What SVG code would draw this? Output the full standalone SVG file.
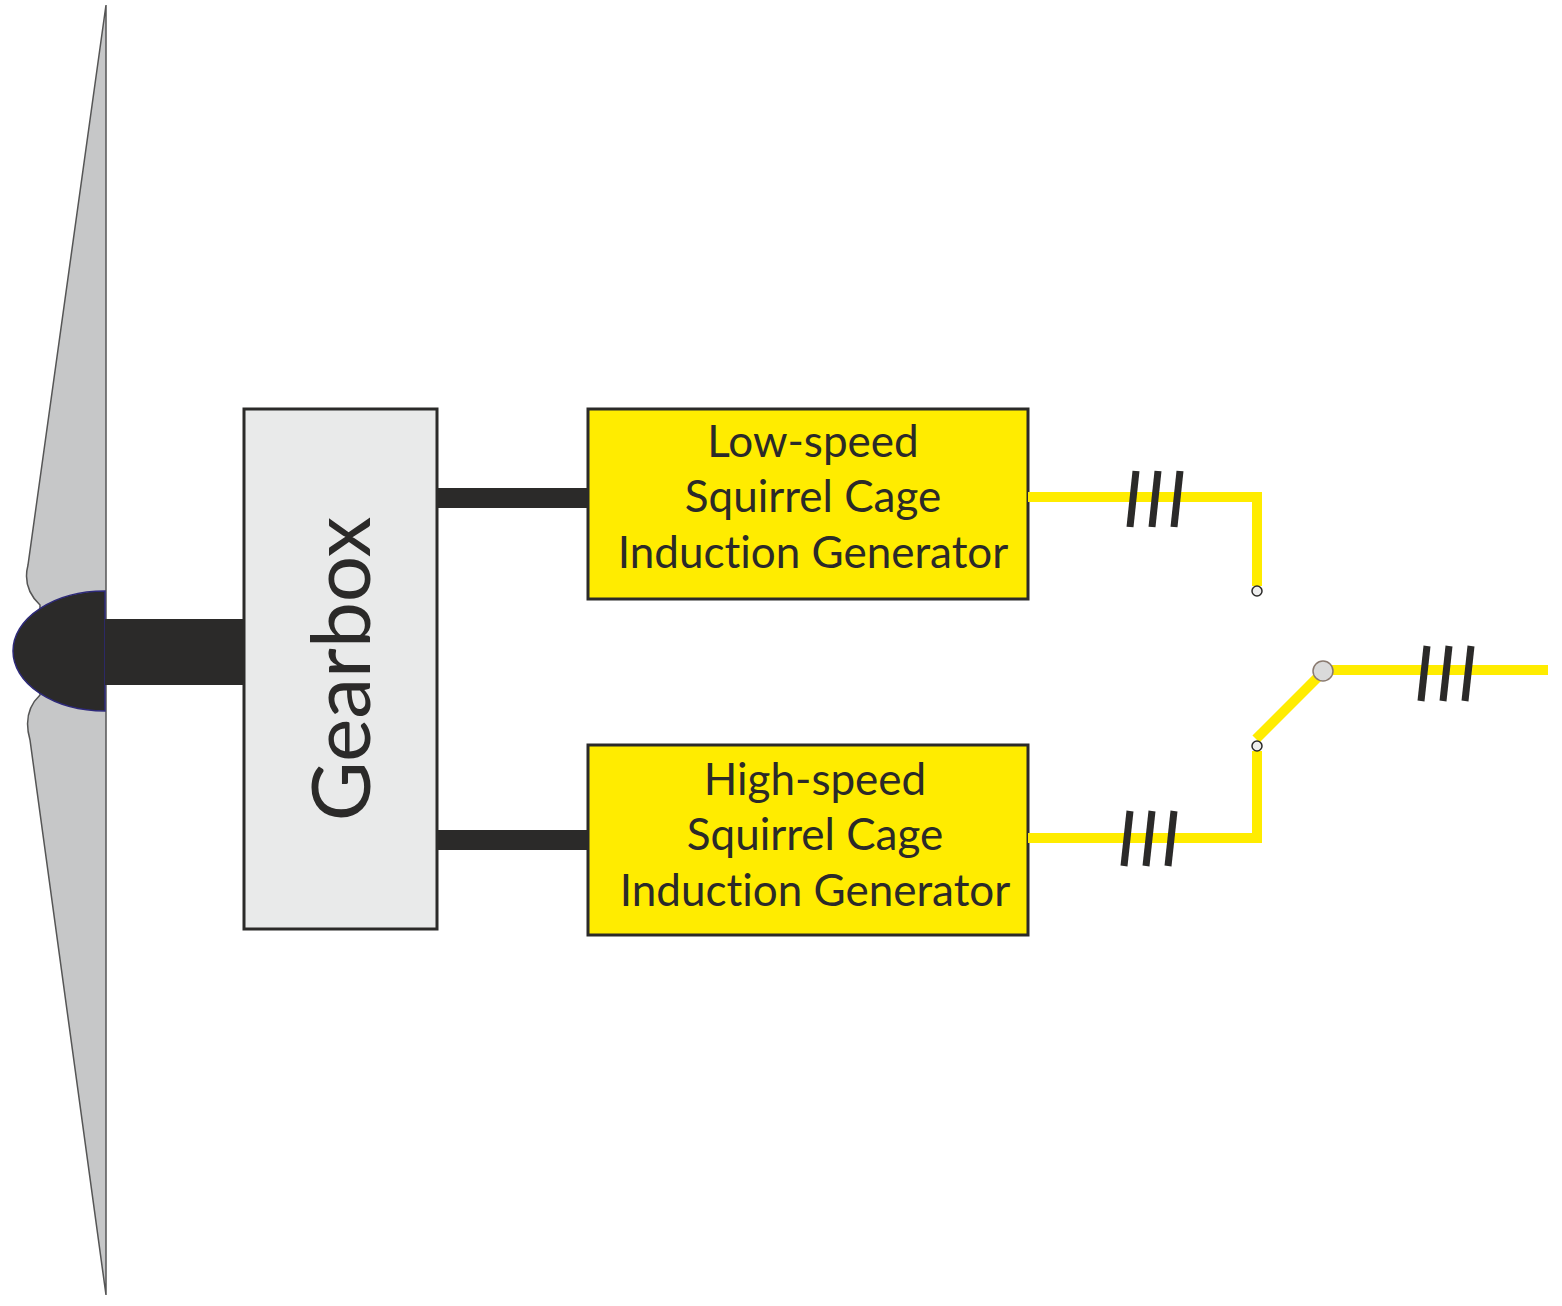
<svg xmlns="http://www.w3.org/2000/svg" width="1562" height="1306" viewBox="0 0 1562 1306">
<style>
.gen{fill:#ffec00;stroke:#2b2a29;stroke-width:3}
.lbl{font-family:Lato,"Open Sans",sans-serif;font-size:44px;fill:#2b2a29;text-anchor:middle;font-variant-ligatures:none;font-feature-settings:"liga" 0}
.w{fill:none;stroke:#ffec00;stroke-width:10}
.t{stroke:#2b2a29;stroke-width:7}
.sh{fill:#2b2a29}
</style>
<rect width="1562" height="1306" fill="#fff"/>
<g id="rotor">
<path d="M106,5 L106,1295 L30,740 Q22,712 40,695 L40,605 Q22,588 28,565 Z" fill="#c6c7c8" stroke="#555" stroke-width="1.5"/>
<path d="M105,591 A92,60 0 0 0 105,711 Z" fill="#2b2a29" stroke="#2e2a7a" stroke-width="1.5"/>
<rect x="105" y="619" width="140" height="66" class="sh"/>
</g>
<g id="gearbox">
<rect x="244" y="409" width="193" height="520" fill="#e9eaea" stroke="#2b2a29" stroke-width="3"/>
<text transform="translate(370,669) rotate(-90)" font-family="Lato,'Open Sans',sans-serif" font-size="82" fill="#2b2a29" text-anchor="middle">Gearbox</text>
</g>
<g id="shafts">
<rect x="437" y="488" width="151" height="20" class="sh"/>
<rect x="437" y="830" width="151" height="20" class="sh"/>
</g>
<g id="gen-low">
<rect x="588" y="409" width="440" height="190" class="gen"/>
<text class="lbl" x="813" y="457">Low-speed</text>
<text class="lbl" x="813" y="512">Squirrel Cage</text>
<text class="lbl" x="813" y="568">Induction Generator</text>
</g>
<g id="gen-high">
<rect x="588" y="745" width="440" height="190" class="gen"/>
<text class="lbl" x="815" y="795">High-speed</text>
<text class="lbl" x="815" y="850">Squirrel Cage</text>
<text class="lbl" x="815" y="906">Induction Generator</text>
</g>
<g id="connectors">
<polyline class="w" points="1028,497 1257,497 1257,586"/>
<polyline class="w" points="1028,838 1257,838 1257,751"/>
<line class="w" x1="1256" y1="739" x2="1321" y2="674"/>
<line class="w" x1="1323" y1="670" x2="1548" y2="670"/>
<g class="t">
<line x1="1136" y1="471" x2="1130" y2="527"/><line x1="1158" y1="471" x2="1152" y2="527"/><line x1="1180" y1="471" x2="1174" y2="527"/>
<line x1="1130" y1="811" x2="1124" y2="866"/><line x1="1152" y1="811" x2="1146" y2="866"/><line x1="1174" y1="811" x2="1168" y2="866"/>
<line x1="1427" y1="646" x2="1421" y2="701"/><line x1="1449" y1="646" x2="1443" y2="701"/><line x1="1471" y1="646" x2="1465" y2="701"/>
</g>
<circle cx="1257" cy="591" r="5" fill="#eee" stroke="#2b2a29" stroke-width="1.5"/>
<circle cx="1257" cy="746" r="5" fill="#eee" stroke="#2b2a29" stroke-width="1.5"/>
<circle cx="1323" cy="671" r="10" fill="#dadada" stroke="#8a7a70" stroke-width="1.5"/>
</g>
</svg>
